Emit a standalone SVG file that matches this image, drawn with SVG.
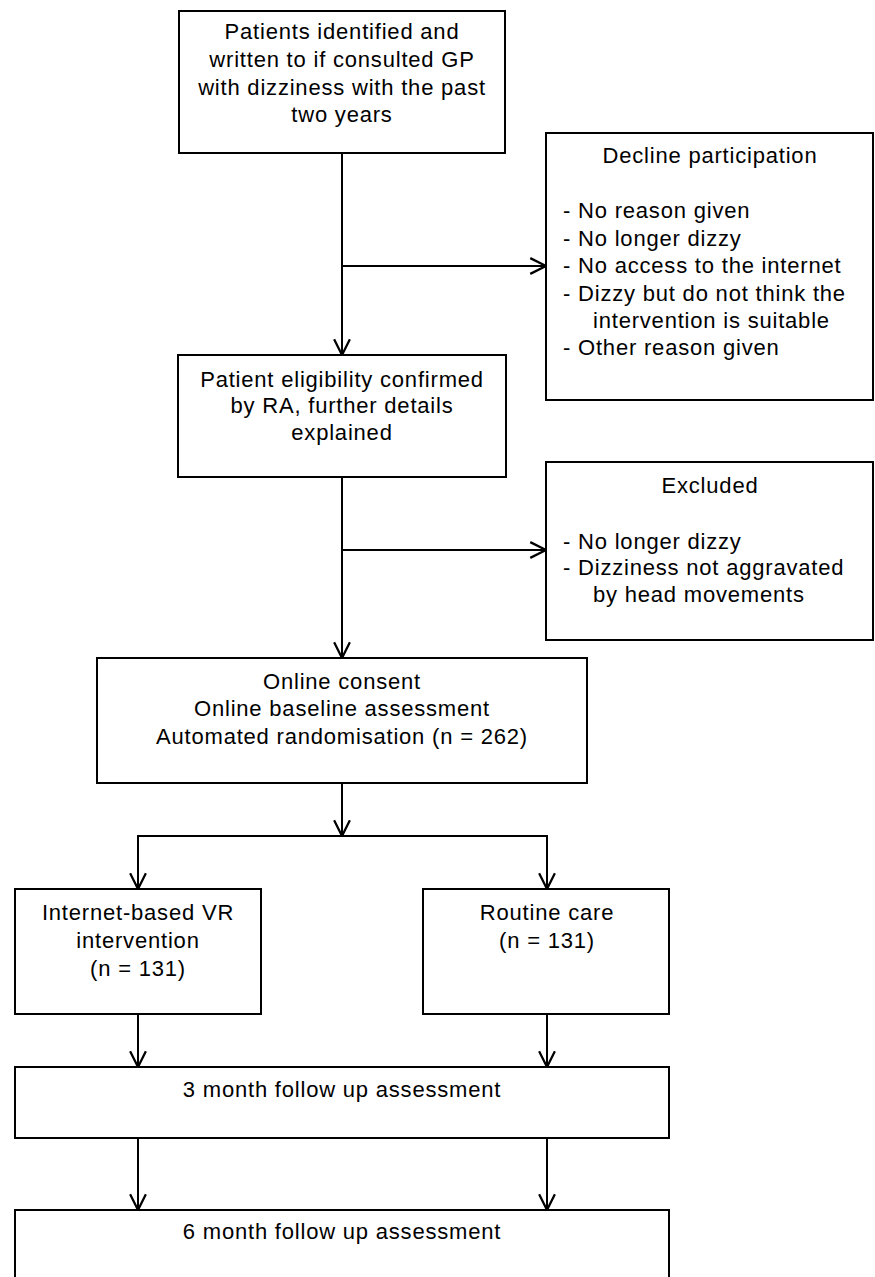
<svg xmlns="http://www.w3.org/2000/svg" width="875" height="1277" viewBox="0 0 875 1277">
<style>
.box{fill:#fff;stroke:#000;stroke-width:2}
.t{font-family:"Liberation Sans",Arial,sans-serif;font-size:22px;letter-spacing:0.8px;fill:#000}
.c{text-anchor:middle}
.ln{fill:none;stroke:#000;stroke-width:2}
</style>
<defs>
<marker id="arr" markerUnits="userSpaceOnUse" markerWidth="18" markerHeight="18" viewBox="0 0 16 16" refX="15" refY="8" orient="auto">
<path d="M1,1 L15,8 L1,15" fill="none" stroke="#000" stroke-width="2"/>
</marker>
</defs>
<rect width="875" height="1277" fill="#fff"/>
<g id="connectors">
<line class="ln" x1="342" y1="153" x2="342" y2="355" marker-end="url(#arr)"/>
<line class="ln" x1="342" y1="266" x2="546" y2="266" marker-end="url(#arr)"/>
<line class="ln" x1="342" y1="477" x2="342" y2="658" marker-end="url(#arr)"/>
<line class="ln" x1="342" y1="550" x2="546" y2="550" marker-end="url(#arr)"/>
<line class="ln" x1="342" y1="783" x2="342" y2="836" marker-end="url(#arr)"/>
<polyline class="ln" points="138,889 138,836 547,836 547,889"/>
<line class="ln" x1="138" y1="836" x2="138" y2="889" marker-end="url(#arr)"/>
<line class="ln" x1="547" y1="836" x2="547" y2="889" marker-end="url(#arr)"/>
<line class="ln" x1="138" y1="1014" x2="138" y2="1067" marker-end="url(#arr)"/>
<line class="ln" x1="547" y1="1014" x2="547" y2="1067" marker-end="url(#arr)"/>
<line class="ln" x1="138" y1="1138" x2="138" y2="1210" marker-end="url(#arr)"/>
<line class="ln" x1="547" y1="1138" x2="547" y2="1210" marker-end="url(#arr)"/>
</g>
<g id="identified">
<rect class="box" x="179" y="11" width="326" height="142"/>
<text class="t c" x="342" y="39">Patients identified and</text>
<text class="t c" x="342" y="67">written to if consulted GP</text>
<text class="t c" x="342" y="94.5">with dizziness with the past</text>
<text class="t c" x="342" y="122">two years</text>
</g>
<g id="decline">
<rect class="box" x="546" y="133" width="327" height="267"/>
<text class="t c" x="710" y="163">Decline participation</text>
<text class="t" x="563" y="218">- No reason given</text>
<text class="t" x="563" y="245.5">- No longer dizzy</text>
<text class="t" x="563" y="273">- No access to the internet</text>
<text class="t" x="563" y="300.5">- Dizzy but do not think the</text>
<text class="t" x="593" y="328">intervention is suitable</text>
<text class="t" x="563" y="355">- Other reason given</text>
</g>
<g id="eligibility">
<rect class="box" x="178" y="355" width="328" height="122"/>
<text class="t c" x="342" y="387">Patient eligibility confirmed</text>
<text class="t c" x="342" y="413">by RA, further details</text>
<text class="t c" x="342" y="439.5">explained</text>
</g>
<g id="excluded">
<rect class="box" x="546" y="462" width="327" height="178"/>
<text class="t c" x="710" y="493">Excluded</text>
<text class="t" x="563" y="548.5">- No longer dizzy</text>
<text class="t" x="563" y="575">- Dizziness not aggravated</text>
<text class="t" x="593" y="602">by head movements</text>
</g>
<g id="consent">
<rect class="box" x="97" y="658" width="490" height="125"/>
<text class="t c" x="342" y="688.5">Online consent</text>
<text class="t c" x="342" y="716">Online baseline assessment</text>
<text class="t c" x="342" y="743.5">Automated randomisation (n = 262)</text>
</g>
<g id="internet">
<rect class="box" x="15" y="889" width="246" height="125"/>
<text class="t c" x="138" y="920">Internet-based VR</text>
<text class="t c" x="138" y="947.5">intervention</text>
<text class="t c" x="138" y="976">(n = 131)</text>
</g>
<g id="routine">
<rect class="box" x="423" y="889" width="246" height="125"/>
<text class="t c" x="547" y="920">Routine care</text>
<text class="t c" x="547" y="948">(n = 131)</text>
</g>
<g id="month3">
<rect class="box" x="15" y="1067" width="654" height="71"/>
<text class="t c" x="342" y="1097">3 month follow up assessment</text>
</g>
<g id="month6">
<rect class="box" x="15" y="1210" width="654" height="90"/>
<text class="t c" x="342" y="1238.5">6 month follow up assessment</text>
</g>
</svg>
